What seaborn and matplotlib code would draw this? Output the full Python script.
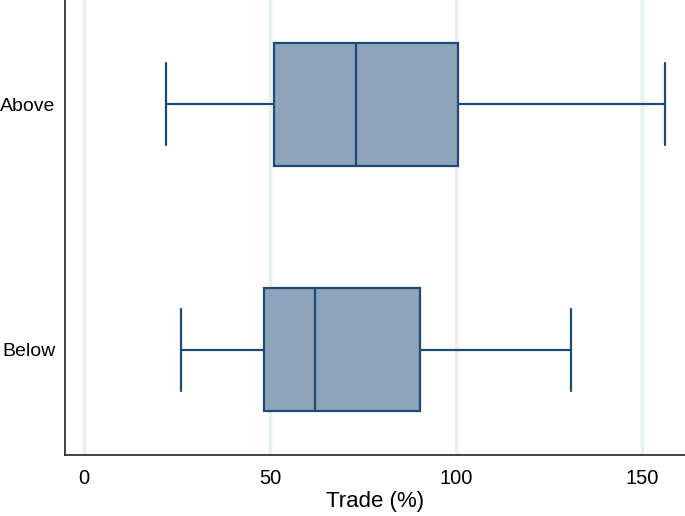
import pandas as pd
import matplotlib
matplotlib.use("Agg")
import matplotlib.pyplot as plt
import seaborn as sns

# five-number summaries (min, q1, median, q3, max)
groups = ["Above", "Below"]
above_vals = [22.0, 51.1, 73.1, 100.6, 156.2]
below_vals = [26.1, 48.4, 62.1, 90.3, 130.9]
xticks = [0, 50, 100, 150]

df = pd.DataFrame({
    "group": ["Above"] * len(above_vals) + ["Below"] * len(below_vals),
    "trade": above_vals + below_vals,
})

sns.set_style("white")
plt.rcParams["font.family"] = ["Liberation Sans", "DejaVu Sans"]
plt.rcParams["text.color"] = "black"
plt.rcParams["xtick.color"] = "black"
plt.rcParams["ytick.color"] = "black"
plt.rcParams["axes.labelcolor"] = "black"

fig = plt.figure(figsize=(6.85, 5.16), dpi=100)
ax = fig.add_axes([65 / 685, 61 / 516, 620 / 685, 455 / 516])

# light vertical grid lines first
for t in xticks:
    ax.axvline(t, color="#e8f0f1", lw=2.5, zorder=0)

edge = "#1f4a78"
sns.boxplot(data=df, x="trade", y="group", order=groups, ax=ax,
            orient="h", width=0.5, whis=10, color="#8ea4ba",
            linecolor=edge, linewidth=1.6, saturation=1,
            capwidths=0.333)

ax.set_xlim(-5.1, 161.6)
ax.set_ylim(1.427, -0.423)
ax.set_xticks(xticks)
ax.set_xticklabels([str(t) for t in xticks], fontsize=14.5)
ax.set_yticks([0, 1])
ax.set_yticklabels(groups, fontsize=14)
ax.set_xlabel("Trade (%)", fontsize=16, labelpad=2)
ax.set_ylabel("")

ax.tick_params(axis="x", length=7, width=1, color="#222222", pad=3)
ax.tick_params(axis="y", length=0, pad=7)
for side in ["top", "right"]:
    ax.spines[side].set_visible(False)
for side in ["left", "bottom"]:
    ax.spines[side].set_color("#222222")
    ax.spines[side].set_linewidth(1.2)

fig.savefig("out.png", dpi=100)
